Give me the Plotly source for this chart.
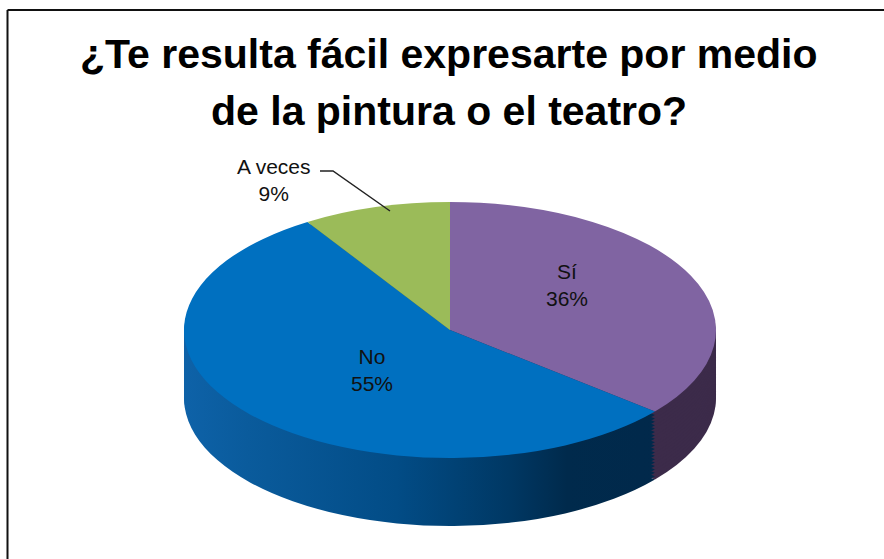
import json
import plotly.graph_objects as go

# ---- data ----
labels = ["Sí", "No", "A veces"]
values = [36, 55, 9]
top_colors = ["#8064A2", "#0070C0", "#9BBB59"]
wall_colors = ["#3C2B4A", "#0B4F8A", "#5E7A33"]
title_lines = ["¿Te resulta fácil expresarte por medio", "de la pintura o el teatro?"]

# ---- geometry (pixels) ----
W, H = 884, 559
CX, A = 450, 266          # centre x and horizontal radius of the pie
CY, B = 330, 128          # centre y and vertical radius of the tilted top face
DEPTH = 68                # thickness of the 3-D wall
N_LAYERS = 20


def px(x):
    return x / W


def py(y):
    return 1 - y / H


fig = go.Figure()
dom_x = [px(CX - A), px(CX + A)]
offsets = [DEPTH * (N_LAYERS - i) / N_LAYERS for i in range(N_LAYERS)] + [0]
for k, off in enumerate(offsets):
    is_top = k == len(offsets) - 1
    fig.add_trace(go.Pie(
        labels=labels, values=values, sort=False, direction="clockwise", rotation=0,
        marker=dict(colors=top_colors if is_top else wall_colors, line=dict(width=0)),
        textinfo="none", hoverinfo="skip", showlegend=False,
        domain=dict(x=dom_x, y=[0, 1]),
    ))

total = sum(values)
pct = [round(100 * v / total) for v in values]
label_pos = {"Sí": (567, 285), "No": (372, 370), "A veces": (274, 180)}
label_font = dict(family="Liberation Sans, Arial, sans-serif", size=21, color="#111111")
for lab, p in zip(labels, pct):
    x, y = label_pos[lab]
    fig.add_annotation(x=px(x), y=py(y), xref="paper", yref="paper",
                       text=f"{lab}<br>{p}%", showarrow=False, font=label_font,
                       xanchor="center", yanchor="middle")

# leader line for "A veces"
lead = [(320, 171), (333, 171), (390, 211)]
path = "M " + " L ".join(f"{px(a)},{py(b)}" for a, b in lead)
fig.add_shape(type="path", path=path, xref="paper", yref="paper",
              line=dict(color="#222222", width=1.5))

# chart frame (left and top edges visible)
fig.add_shape(type="line", xref="paper", yref="paper", x0=px(7.5), x1=1.01, y0=py(10), y1=py(10),
              line=dict(color="#111111", width=2))
fig.add_shape(type="line", xref="paper", yref="paper", x0=px(7.5), x1=px(7.5), y0=py(10), y1=-0.01,
              line=dict(color="#111111", width=2))

# title, one line per annotation
title_font = dict(family="Liberation Sans, Arial, sans-serif", size=41, color="#000000")
for line, yc in zip(title_lines, [54, 111]):
    fig.add_annotation(x=px(449), y=py(yc), xref="paper", yref="paper",
                       text=f"<b>{line}</b>", showarrow=False, font=title_font,
                       xanchor="center", yanchor="middle")

fig.update_layout(
    width=W, height=H,
    margin=dict(l=0, r=0, t=0, b=0),
    paper_bgcolor="white", plot_bgcolor="white",
)

s = B / A
pie_cy = H / 2
transforms = [f"translate(0,{CY + off - s * pie_cy:.3f}) scale(1,{s:.5f})" for off in offsets]
grad_x1, grad_x2 = CX - A, CX + A
stops = [(0.0, "#0E62A8"), (0.12, "#0A5B9C"), (0.40, "#024C86"), (0.61, "#003864"),
         (0.72, "#002A4C"), (1.0, "#02284A")]

post = """
document.body.style.margin = '0';
var gd = document.getElementById('{plot_id}');
var NS = 'http://www.w3.org/2000/svg';
var svg = gd.querySelector('svg.main-svg');
var defs = svg.querySelector('defs');
if (!defs) { defs = document.createElementNS(NS, 'defs'); svg.insertBefore(defs, svg.firstChild); }
var lg = document.createElementNS(NS, 'linearGradient');
lg.setAttribute('id', 'wallgrad');
lg.setAttribute('gradientUnits', 'userSpaceOnUse');
lg.setAttribute('x1', '%X1%'); lg.setAttribute('x2', '%X2%');
lg.setAttribute('y1', '0'); lg.setAttribute('y2', '0');
var stops = %STOPS%;
stops.forEach(function(st){
  var e = document.createElementNS(NS, 'stop');
  e.setAttribute('offset', st[0]); e.setAttribute('stop-color', st[1]);
  lg.appendChild(e);
});
defs.appendChild(lg);
var tr = %TRANSFORMS%;
var groups = gd.querySelectorAll('.pielayer g.trace');
groups.forEach(function(el, i){
  el.setAttribute('transform', tr[i]);
  if (i < tr.length - 1) {
    var paths = el.querySelectorAll('g.slice path.surface');
    if (paths.length > 1) { paths[1].style.fill = 'url(#wallgrad)'; }
  }
});
"""
post = (post.replace("%X1%", str(grad_x1)).replace("%X2%", str(grad_x2))
        .replace("%STOPS%", json.dumps(stops)).replace("%TRANSFORMS%", json.dumps(transforms)))

fig.write_html("out.html", post_script=post, config={"displayModeBar": False})
